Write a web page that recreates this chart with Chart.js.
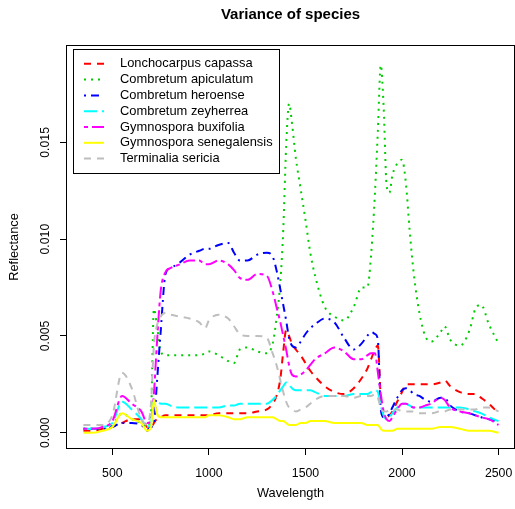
<!DOCTYPE html>
<html lang="en">
<head>
  <meta charset="UTF-8" />
  <title>Variance of species</title>
  <style>
    * { margin: 0; padding: 0; box-sizing: border-box; }
    body { background: #fff; }
    canvas { display: block; }
  </style>
</head>
<body>
  <canvas id="chart" width="515" height="509"></canvas>
  <script src="https://cdn.jsdelivr.net/npm/chart.js"></script>
  <script>
    // wavelength grid (nm)
    const wavelengths = [350,400,450,500,550,600,650,680,700,715,730,750,775,800,850,900,950,980,1000,1050,
      1100,1130,1160,1200,1250,1300,1330,1350,1370,1385,1400,1415,1430,1450,1475,1500,1525,1550,1600,1650,
      1700,1750,1790,1820,1840,1860,1875,1890,1905,1920,1935,1950,1975,2000,2020,2040,2060,2090,2120,2150,
      2200,2220,2250,2300,2350,2380,2410,2450,2500];

    const species = ["Lonchocarpus capassa", "Combretum apiculatum", "Combretum heroense",
      "Combretum zeyherrea", "Gymnospora buxifolia", "Gymnospora senegalensis", "Terminalia sericia"];

    const lonchocarpus = [.0001,.0001,.0002,.0003,.0005,.0007,.0007,.0003,.0002,.0005,.0007,.0008,.0009,.0009,.0009,.0009,.0009,.0009,.0009,.0010,
      .0010,.0010,.0010,.0010,.0011,.0012,.0015,.0019,.0028,.0042,.0053,.0050,.0046,.0043,.0040,.0036,.0032,.0029,.0024,.0021,
      .0020,.0023,.0028,.0033,.0038,.0043,.0045,.0018,.0009,.0008,.0009,.0011,.0016,.0021,.0025,.0025,.0025,.0025,.0025,.0025,
      .0026,.0027,.0024,.0021,.0020,.0020,.0018,.0015,.0010];
    const apiculatum = [.0002,.0002,.0002,.0004,.0010,.0007,.0005,.0003,.0010,.0064,.0056,.0042,.0040,.0040,.0040,.0040,.0040,.0041,.0042,.0040,
      .0037,.0036,.0043,.0044,.0042,.0041,.0046,.0059,.0078,.0105,.0148,.0170,.0160,.0142,.0126,.0110,.0093,.0081,.0065,.0060,
      .0058,.0065,.0075,.0075,.0092,.0124,.0156,.0190,.0168,.0128,.0124,.0133,.0139,.0141,.0129,.0104,.0083,.0062,.0050,.0047,
      .0052,.0055,.0048,.0045,.0053,.0064,.0066,.0056,.0046];
    const heroense = [.0002,.0002,.0002,.0003,.0005,.0005,.0004,.0001,.0003,.0004,.0025,.0052,.0082,.0085,.0088,.0092,.0094,.0095,.0095,.0097,
      .0098,.0093,.0089,.0089,.0092,.0093,.0091,.0084,.0074,.0066,.0058,.0049,.0045,.0044,.0047,.0051,.0054,.0056,.0059,.0057,
      .0049,.0043,.0046,.0050,.0052,.0051,.0048,.0012,.0008,.0008,.0010,.0013,.0018,.0022,.0023,.0022,.0020,.0019,.0017,.0016,
      .0018,.0018,.0014,.0011,.0010,.0009,.0008,.0007,.0006];
    const zeyherrea = [.0002,.0002,.0003,.0005,.0016,.0012,.0007,.0003,.0005,.0017,.0017,.0015,.0015,.0014,.0013,.0013,.0013,.0013,.0013,.0013,
      .0014,.0014,.0015,.0015,.0015,.0015,.0017,.0019,.0022,.0024,.0026,.0025,.0023,.0022,.0022,.0022,.0022,.0021,.0019,.0019,
      .0019,.0020,.0020,.0020,.0021,.0022,.0021,.0014,.0009,.0007,.0008,.0010,.0013,.0015,.0015,.0014,.0013,.0013,.0013,.0013,
      .0013,.0013,.0013,.0013,.0012,.0011,.0010,.0008,.0006];
    const buxifolia = [.0002,.0002,.0003,.0006,.0019,.0015,.0011,.0005,.0006,.0020,.0045,.0073,.0083,.0085,.0087,.0089,.0089,.0087,.0087,.0089,
      .0087,.0084,.0080,.0079,.0082,.0081,.0073,.0065,.0057,.0050,.0043,.0035,.0030,.0029,.0030,.0032,.0035,.0038,.0041,.0044,
      .0042,.0038,.0038,.0040,.0041,.0041,.0031,.0020,.0011,.0007,.0006,.0008,.0012,.0015,.0015,.0014,.0013,.0013,.0014,.0015,
      .0018,.0017,.0013,.0011,.0010,.0009,.0008,.0007,.0004];
    const senegalensis = [.0000,.0000,.0001,.0003,.0010,.0007,.0005,.0001,.0003,.0017,.0010,.0008,.0008,.0008,.0008,.0008,.0008,.0008,.0009,.0009,
      .0008,.0007,.0007,.0008,.0008,.0008,.0008,.0007,.0006,.0006,.0005,.0004,.0004,.0004,.0005,.0005,.0006,.0006,.0006,.0005,
      .0005,.0005,.0005,.0004,.0004,.0004,.0004,.0002,.0001,.0001,.0001,.0001,.0002,.0002,.0002,.0002,.0002,.0002,.0002,.0002,
      .0003,.0003,.0003,.0002,.0001,.0001,.0001,.0001,.0000];
    const sericia = [.0004,.0004,.0004,.0009,.0031,.0023,.0007,.0004,.0015,.0045,.0055,.0060,.0062,.0061,.0060,.0059,.0057,.0054,.0058,.0061,
      .0059,.0055,.0051,.0050,.0050,.0049,.0041,.0035,.0027,.0021,.0016,.0013,.0012,.0011,.0012,.0013,.0015,.0017,.0019,.0019,
      .0019,.0018,.0019,.0019,.0019,.0020,.0018,.0013,.0011,.0011,.0012,.0012,.0012,.0011,.0011,.0011,.0011,.0010,.0010,.0010,
      .0011,.0011,.0012,.0012,.0012,.0012,.0013,.0013,.0011];

    const xTicks = [500, 1000, 1500, 2000, 2500];
    const yTicks = [0, 0.005, 0.010, 0.015];

    const series = [lonchocarpus, apiculatum, heroense, zeyherrea, buxifolia, senegalensis, sericia];
    const colors = ['#FF0000', '#00CD00', '#0000FF', '#00FFFF', '#FF00FF', '#FFFF00', '#BEBEBE'];
    const dashes = [[7, 6], [2, 5], [2, 5, 8, 5], [13, 5], [4, 4, 12, 4], [], [7, 6]];

    const FONT = "'Liberation Sans', Arial, Helvetica, sans-serif";
    Chart.defaults.font.family = FONT;
    Chart.defaults.color = '#000';

    // box around the plot region, like R's box()
    const plotBox = {
      id: 'plotBox',
      afterDraw(chart) {
        const { ctx, chartArea: a } = chart;
        ctx.save();
        ctx.strokeStyle = '#000';
        ctx.lineWidth = 1;
        ctx.strokeRect(a.left - 0.5, a.top - 0.5, a.right - a.left + 1, a.bottom - a.top + 1);
        ctx.restore();
      }
    };

    // R-style legend in the top-left corner
    const rLegend = {
      id: 'rLegend',
      afterDatasetsDraw(chart) {
        const { ctx, chartArea: a } = chart;
        const x0 = a.left + 6.5, y0 = a.top + 3.5, w = 206, h = 124;
        ctx.save();
        ctx.fillStyle = '#fff';
        ctx.fillRect(x0, y0, w, h);
        ctx.strokeStyle = '#000';
        ctx.lineWidth = 1;
        ctx.strokeRect(x0, y0, w, h);
        ctx.font = "12.9px " + FONT;
        ctx.textBaseline = 'middle';
        chart.data.datasets.forEach((ds, i) => {
          const y = y0 + 14.3 + i * 15.8;
          ctx.strokeStyle = ds.borderColor;
          ctx.lineWidth = 2;
          ctx.setLineDash(ds.borderDash);
          ctx.beginPath();
          ctx.moveTo(x0 + 10.5, y);
          ctx.lineTo(x0 + 30.5, y);
          ctx.stroke();
          ctx.setLineDash([]);
          ctx.fillStyle = '#000';
          ctx.fillText(ds.label, x0 + 46.5, y);
        });
        ctx.restore();
      }
    };

    new Chart(document.getElementById('chart'), {
      type: 'line',
      data: {
        labels: wavelengths,
        datasets: series.map((vals, i) => ({
          label: species[i],
          data: vals,
          borderColor: colors[i],
          borderDash: dashes[i],
          borderWidth: 2,
          pointRadius: 0,
          fill: false,
          cubicInterpolationMode: 'monotone',
          order: series.length - i
        }))
      },
      options: {
        responsive: false,
        animation: false,
        layout: { padding: { left: 0, right: 1, top: 0, bottom: 0 } },
        plugins: {
          legend: { display: false },
          tooltip: { enabled: false },
          title: {
            display: true,
            text: 'Variance of species',
            fullSize: false,
            color: '#000',
            font: { size: 15, weight: 'bold', lineHeight: 1.2 },
            padding: { top: 6, bottom: 22 }
          }
        },
        scales: {
          x: {
            type: 'linear',
            min: 265,
            max: 2580,
            afterBuildTicks: s => { s.ticks = xTicks.map(v => ({ value: v })); },
            afterFit: s => { s.height = 61; s.paddingLeft = 0; s.paddingRight = 0; },
            grid: { drawOnChartArea: false, drawTicks: true, tickLength: 7, color: '#000', lineWidth: 1 },
            border: { display: false },
            ticks: { padding: 11, font: { size: 12.3 }, color: '#000', maxRotation: 0, callback: v => String(v) },
            title: { display: true, text: 'Wavelength', font: { size: 12.8, lineHeight: 1.2 }, color: '#000', padding: { top: 0, bottom: 8 } }
          },
          y: {
            type: 'linear',
            min: -0.00079,
            max: 0.01998,
            afterBuildTicks: s => { s.ticks = yTicks.map(v => ({ value: v })); },
            afterFit: s => { s.width = 67; s.paddingTop = 0; s.paddingBottom = 0; },
            grid: { drawOnChartArea: false, drawTicks: true, tickLength: 7, color: '#000', lineWidth: 1 },
            border: { display: false },
            ticks: { padding: -1, crossAlign: 'center', minRotation: 90, maxRotation: 90, font: { size: 12.3 }, color: '#000', callback: v => v.toFixed(3) },
            title: { display: true, text: 'Reflectance', font: { size: 12.8, lineHeight: 1.2 }, color: '#000', padding: { top: 6.5, bottom: 0 } }
          }
        }
      },
      plugins: [plotBox, rLegend]
    });
  </script>
</body>
</html>
